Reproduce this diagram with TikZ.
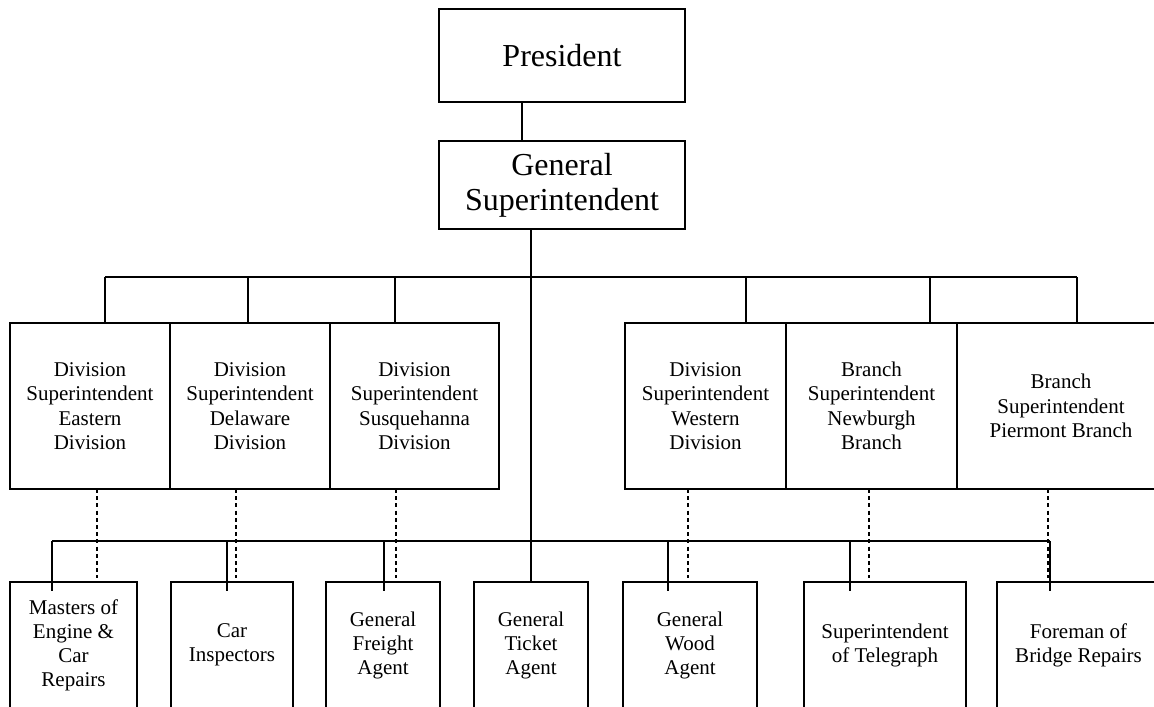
\documentclass[tikz,border=0pt]{standalone}
\usepackage{fontspec}
\setmainfont{Liberation Serif}
\usepackage{tikz}

\begin{document}
\begin{tikzpicture}[x=0.5pt, y=-0.5pt,
  wire/.style={line width=1pt},
  thinwire/.style={line width=0.75pt},
  dashwire/.style={line width=1pt, dash pattern=on 2pt off 1.6pt, shorten >=2pt},
  topbox/.style={draw, line width=1pt, inner sep=0pt, outer sep=0pt, minimum width=123pt, align=center, font=\fontsize{16}{17.5}\selectfont},
  midbox/.style={draw, line width=1pt, inner sep=0pt, outer sep=0pt, minimum height=83pt, align=center, font=\fontsize{10.5}{12.2}\selectfont},
  lowbox/.style={draw, line width=1pt, inner sep=0pt, outer sep=0pt, minimum height=63pt, align=center, font=\fontsize{10.5}{12}\selectfont}]

\useasboundingbox (0,0) rectangle (1154,706);
\clip (0,0) rectangle (1154,706);

% top of the chart
\node[topbox, minimum height=46.5pt] (P) at (562,55.5) {President};
\node[topbox, minimum height=44pt] (GS) at (562,185) {General\\Superintendent};

% division and branch superintendents
\node[midbox, minimum width=80pt] (DE) at (90,406) {Division\\Superintendent\\Eastern\\Division};
\node[midbox, minimum width=80pt] (DD) at (250,406) {Division\\Superintendent\\Delaware\\Division};
\node[midbox, minimum width=84.5pt] (DS) at (414.5,406) {Division\\Superintendent\\Susquehanna\\Division};
\node[midbox, minimum width=80.5pt] (DW) at (705.5,406) {Division\\Superintendent\\Western\\Division};
\node[midbox, minimum width=85.5pt] (BN) at (871.5,406) {Branch\\Superintendent\\Newburgh\\Branch};
\node[midbox, minimum width=104pt] (BP) at (1061,406) {Branch\\Superintendent\\Piermont Branch};

% general officers (boxes run off the page)
\node[lowbox, minimum width=63.5pt] (ME) at (73.5,645) {Masters of\\Engine \&\\Car\\Repairs};
\node[lowbox, minimum width=61pt] (CI) at (232,645) {Car\\Inspectors};
\node[lowbox, minimum width=57pt] (GF) at (383,645) {General\\Freight\\Agent};
\node[lowbox, minimum width=57pt] (GT) at (531,645) {General\\Ticket\\Agent};
\node[lowbox, minimum width=67pt] (GW) at (690,645) {General\\Wood\\Agent};
\node[lowbox, minimum width=81pt] (ST) at (885,645) {Superintendent\\of Telegraph};
\node[lowbox, minimum width=81.5pt] (FB) at (1078.5,645) {Foreman of\\Bridge Repairs};

% bus junctions
\coordinate (ta) at (105,277);
\coordinate (tb) at (248,277);
\coordinate (tc) at (395,277);
\coordinate (td) at (746,277);
\coordinate (te) at (930,277);
\coordinate (tf) at (1077,277);
\coordinate (ba) at (52,541);
\coordinate (bb) at (227,541);
\coordinate (bc) at (384,541);
\coordinate (be) at (668,541);
\coordinate (bf) at (850,541);
\coordinate (bg) at (1050,541);

% solid lines of authority
\draw[wire] ([xshift=-20pt]P.south) -- ([xshift=-20pt]GS.north); % president
\draw[wire] ([xshift=-15.5pt]GS.south) coordinate (stem) -- (stem |- GT.north); % main stem
\draw[wire] (ta) -- (tf); % upper bus
\draw[wire] (ta) -- (ta |- DE.north);
\draw[wire] (tb) -- (tb |- DD.north);
\draw[wire] (tc) -- (tc |- DS.north);
\draw[wire] (td) -- (td |- DW.north);
\draw[wire] (te) -- (te |- BN.north);
\draw[wire] (tf) -- (tf |- BP.north);
\draw[thinwire] (ba) -- (bg); % lower bus
\draw[thinwire] (ba) -- ([yshift=-4.5pt]ba |- ME.north);
\draw[thinwire] (bb) -- ([yshift=-4.5pt]bb |- CI.north);
\draw[thinwire] (bc) -- ([yshift=-4.5pt]bc |- GF.north);
\draw[thinwire] (be) -- ([yshift=-4.5pt]be |- GW.north);
\draw[thinwire] (bf) -- ([yshift=-4.5pt]bf |- ST.north);
\draw[thinwire] (bg) -- ([yshift=-4.5pt]bg |- FB.north);

% dashed lines from the divisions
\draw[dashwire] ([xshift=3.5pt]DE.south) -- ([xshift=3.5pt]DE.south |- ME.north);
\draw[dashwire] ([xshift=-7pt]DD.south) -- ([xshift=-7pt]DD.south |- CI.north);
\draw[dashwire] ([xshift=-9.25pt]DS.south) -- ([xshift=-9.25pt]DS.south |- GF.north);
\draw[dashwire] ([xshift=-8.75pt]DW.south) -- ([xshift=-8.75pt]DW.south |- GW.north);
\draw[dashwire] ([xshift=-1.25pt]BN.south) -- ([xshift=-1.25pt]BN.south |- ST.north);
\draw[dashwire] ([xshift=-6.5pt]BP.south) -- ([xshift=-6.5pt]BP.south |- FB.north);

\end{tikzpicture}
\end{document}
